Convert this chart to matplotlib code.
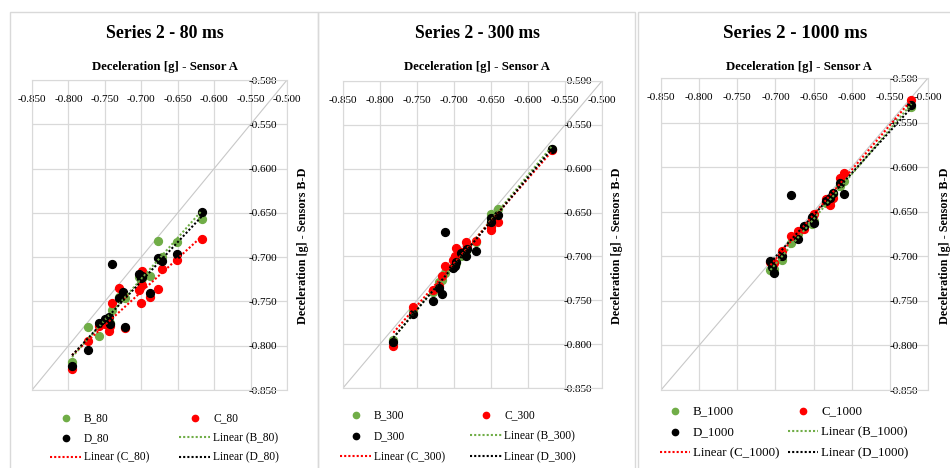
import numpy as np
import matplotlib.pyplot as plt
from matplotlib.patches import Rectangle
from matplotlib.ticker import FixedLocator, FuncFormatter

plt.rcParams['font.family'] = ['Liberation Serif', 'DejaVu Serif']
plt.rcParams['axes.unicode_minus'] = False

# axis ticks (both axes)
tick_vals = [-0.85, -0.80, -0.75, -0.70, -0.65, -0.60, -0.55, -0.50]
axis_lims = [-0.85, -0.50]

# Series 2 - 80 ms  (x = sensor A, y = sensors B, C, D)
a_80 = [-0.795, -0.773, -0.758, -0.7495, -0.745, -0.7425, -0.740, -0.730, -0.7255, -0.722,
        -0.7025, -0.7005, -0.699, -0.6985, -0.6885, -0.677, -0.6715, -0.6515, -0.617]
b_80 = [-0.818, -0.779, -0.789, -0.772, -0.7735, -0.774, -0.760, -0.745, -0.743, -0.746,
        -0.722, -0.727, -0.719, -0.723, -0.721, -0.682, -0.700, -0.683, -0.6565]
c_80 = [-0.826, -0.795, -0.778, -0.776, -0.7835, -0.778, -0.752, -0.735, -0.742, -0.780,
        -0.737, -0.752, -0.716, -0.732, -0.745, -0.7355, -0.713, -0.703, -0.680]
d_80 = [-0.823, -0.805, -0.7745, -0.770, -0.7675, -0.7755, -0.7075, -0.7465, -0.739, -0.779,
        -0.719, -0.724, -0.7215, -0.7225, -0.741, -0.7015, -0.7045, -0.697, -0.649]

# Series 2 - 300 ms
a_300 = [-0.782, -0.7558, -0.729, -0.7198, -0.7162, -0.7118, -0.7011, -0.6989, -0.6967,
         -0.690, -0.6842, -0.6825, -0.6709, -0.650, -0.6495, -0.6411, -0.5677]
b_300 = [-0.7952, -0.762, -0.7405, -0.729, -0.727, -0.719, -0.712, -0.710, -0.708,
         -0.700, -0.694, -0.690, -0.684, -0.6515, -0.656, -0.6463, -0.578]
c_300 = [-0.8017, -0.7578, -0.7381, -0.7335, -0.7225, -0.7113, -0.704, -0.700, -0.6909,
         -0.6954, -0.6835, -0.688, -0.6827, -0.6664, -0.670, -0.6608, -0.5785]
d_300 = [-0.7978, -0.7652, -0.7504, -0.7355, -0.743, -0.6716, -0.7132, -0.711, -0.7065,
         -0.696, -0.700, -0.691, -0.6935, -0.6563, -0.6612, -0.6533, -0.5777]

# Series 2 - 1000 ms
a_1000 = [-0.7065, -0.704, -0.7022, -0.6915, -0.6799, -0.6701, -0.662, -0.6521, -0.650,
          -0.6342, -0.6286, -0.6244, -0.6158, -0.6103, -0.5217]
b_1000 = [-0.715, -0.716, -0.714, -0.7041, -0.685, -0.675, -0.667, -0.6637, -0.660,
          -0.640, -0.6393, -0.630, -0.6213, -0.6157, -0.533]
c_1000 = [-0.7066, -0.710, -0.708, -0.6936, -0.6775, -0.6712, -0.6693, -0.6573, -0.6524,
          -0.636, -0.6423, -0.6348, -0.6124, -0.6064, -0.5244]
d_1000 = [-0.7055, -0.712, -0.7186, -0.6993, -0.6307, -0.6805, -0.6655, -0.6562, -0.6625,
          -0.6375, -0.6342, -0.6286, -0.618, -0.630, -0.5308]

W, H = 950, 468
fig = plt.figure(figsize=(W / 100, H / 100), dpi=100)


def fx(px):
    return px / W


def fy(py):
    return 1 - py / H


green, red, black = '#70AD47', '#FF0000', '#000000'
grid_col = '#d9d9d9'

panels = [
    dict(tag='80', a=a_80, b=b_80, c=c_80, d=d_80, box=(32, 80, 287, 390), frame=(10, 318),
         title_x=165, title_fs=12.8, ylab_x=303,
         leg=(50, 412), leg_fs=8.3, hlen=2.7, colsp=2.6, lsp=0.68),
    dict(tag='300', a=a_300, b=b_300, c=c_300, d=d_300, box=(343, 81, 602, 388), frame=(318, 635),
         title_x=477, title_fs=12.7, ylab_x=617,
         leg=(340, 409), leg_fs=8.3, hlen=2.7, colsp=2.2, lsp=0.8),
    dict(tag='1000', a=a_1000, b=b_1000, c=c_1000, d=d_1000, box=(661, 78, 928, 390), frame=(638, 965),
         title_x=795, title_fs=13.6, ylab_x=945,
         leg=(660, 405), leg_fs=9.3, hlen=2.3, colsp=0.7, lsp=0.7),
]

for p in panels:
    # panel frame
    f0, f1 = p['frame']
    fig.add_artist(Rectangle((fx(f0), fy(475)), fx(f1 - f0), (475 - 12) / H,
                             transform=fig.transFigure, fill=False, ec=grid_col, lw=1))

    x0, y0, x1, y1 = p['box']
    ax = fig.add_axes([fx(x0), fy(y1), fx(x1 - x0), (y1 - y0) / H])
    ax.set_xlim(axis_lims)
    ax.set_ylim(axis_lims)
    ax.xaxis.set_major_locator(FixedLocator(tick_vals))
    ax.yaxis.set_major_locator(FixedLocator(tick_vals))
    fmt = FuncFormatter(lambda v, pos: f'{v:.3f}')
    ax.xaxis.set_major_formatter(fmt)
    ax.yaxis.set_major_formatter(fmt)
    ax.xaxis.tick_top()
    ax.yaxis.tick_right()
    ax.tick_params(axis='x', length=0, pad=-17, labelsize=8)
    ax.tick_params(axis='y', length=0, pad=-7, labelsize=8)
    for lab in ax.get_yticklabels():
        lab.set_horizontalalignment('right')
    ax.grid(True, color=grid_col, lw=0.9)
    ax.set_axisbelow(True)
    for s in ax.spines.values():
        s.set_color(grid_col)

    # 1:1 line
    ax.plot(axis_lims, axis_lims, color='#c8c8c8', lw=0.8, zorder=1)

    series = [('B', p['b'], green), ('C', p['c'], red), ('D', p['d'], black)]
    pts, lines = [], []
    for name, yv, col in series:
        h = ax.scatter(p['a'], yv, s=32, color=col, zorder=3, label=f'{name}_{p["tag"]}')
        pts.append(h)
    for name, yv, col in series:
        coef = np.polyfit(p['a'], yv, 1)
        xs = np.array([min(p['a']), max(p['a'])])
        ln, = ax.plot(xs, np.polyval(coef, xs), linestyle=(0, (1, 1)), lw=1.5, color=col,
                      zorder=4, label=f'Linear ({name}_{p["tag"]})')
        lines.append(ln)

    # row-major order B, C / D, LinB / LinC, LinD -> column-major for matplotlib
    handles = [pts[0], pts[2], lines[1], pts[1], lines[0], lines[2]]
    ax.legend(handles, [h.get_label() for h in handles], loc='upper left',
              bbox_to_anchor=(fx(p['leg'][0]), fy(p['leg'][1])), bbox_transform=fig.transFigure,
              ncol=2, frameon=False, fontsize=p['leg_fs'], handlelength=p['hlen'],
              handletextpad=0.25, columnspacing=p['colsp'], labelspacing=p['lsp'],
              borderpad=0, borderaxespad=0, scatterpoints=1, markerscale=0.8)

    fig.text(fx(p['title_x']), fy(34), f'Series 2 - {p["tag"]} ms', ha='center', va='center',
             fontsize=p['title_fs'], fontweight='bold')
    fig.text(fx((x0 + x1) / 2 + 5), fy(67), 'Deceleration [g] - Sensor A', ha='center',
             va='center', fontsize=9.2, fontweight='bold')
    fig.text(fx(p['ylab_x']), fy(246), 'Deceleration [g] - Sensors B-D', ha='center',
             va='center', rotation=90, fontsize=8.7, fontweight='bold')

fig.savefig('out.png', dpi=100)
